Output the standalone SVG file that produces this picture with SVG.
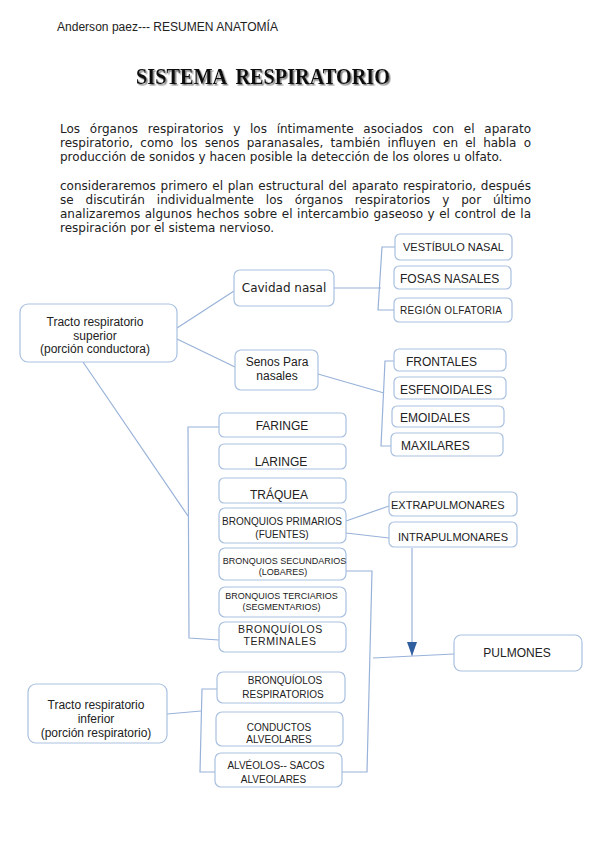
<svg xmlns="http://www.w3.org/2000/svg" width="599" height="848" viewBox="0 0 599 848">
<style>
.box{fill:#fff;stroke:#a9c0e0;stroke-width:1.2}
.ln{fill:none;stroke:#98b2d9;stroke-width:1.2}
.t{font-family:"Liberation Sans",Arial,sans-serif;fill:#222}
.d{font-family:"DejaVu Sans",sans-serif;fill:#222;font-size:12px}
.m{text-anchor:middle}
</style>
<defs>
<filter id="sh" x="-5%" y="-20%" width="110%" height="150%">
<feDropShadow dx="1.5" dy="1.5" stdDeviation="0.7" flood-color="#666" flood-opacity="0.8"/>
</filter>
<marker id="ah" viewBox="0 0 14 10" refX="14" refY="5" markerWidth="14" markerHeight="10" markerUnits="userSpaceOnUse" orient="auto">
<path d="M0,0 L14,5 L0,10 Z" fill="#2f5f9f"/>
</marker>
</defs>
<rect width="599" height="848" fill="#fff"/>
<text class="t" x="57" y="31" font-size="12" textLength="221" lengthAdjust="spacingAndGlyphs">Anderson paez--- RESUMEN ANATOMÍA</text>
<text x="136" y="84" font-family="'Liberation Serif','Times New Roman',serif" font-weight="bold" font-size="23" fill="#111" filter="url(#sh)" word-spacing="5" textLength="254" lengthAdjust="spacingAndGlyphs">SISTEMA RESPIRATORIO</text>
<g id="intro">
<text class="d" x="60" y="133" word-spacing="5.9" textLength="471" lengthAdjust="spacing">Los órganos respiratorios y los íntimamente asociados con el aparato</text>
<text class="d" x="60" y="147" word-spacing="3.4" textLength="471" lengthAdjust="spacing">respiratorio, como los senos paranasales, también influyen en el habla o</text>
<text class="d" x="60" y="161">producción de sonidos y hacen posible la detección de los olores u olfato.</text>
<text class="d" x="60" y="190" word-spacing="0.9" textLength="471" lengthAdjust="spacing">consideraremos primero el plan estructural del aparato respiratorio, después</text>
<text class="d" x="60" y="204" word-spacing="8" textLength="471" lengthAdjust="spacing">se discutirán individualmente los órganos respiratorios y por último</text>
<text class="d" x="60" y="218" word-spacing="0.7" textLength="471" lengthAdjust="spacing">analizaremos algunos hechos sobre el intercambio gaseoso y el control de la</text>
<text class="d" x="60" y="232">respiración por el sistema nervioso.</text>
</g>
<g id="connectors">
<path class="ln" d="M177,328 L234,291"/>
<path class="ln" d="M177,339 L235,367"/>
<path class="ln" d="M83,362 L188,516"/>
<path class="ln" d="M334,288 L381,288"/>
<path class="ln" d="M395,247 L382,247 L378,310 L394,310"/>
<path class="ln" d="M318,374 L384,393"/>
<path class="ln" d="M394,361 L385,361 L381,446 L391,446"/>
<path class="ln" d="M219,427 L188,427 L189,638 L219,640"/>
<path class="ln" d="M346,521 L389,506"/>
<path class="ln" d="M346,533 L389,538"/>
<path class="ln" d="M412,548 L412,656" marker-end="url(#ah)"/>
<path class="ln" d="M454,654 L373,658"/>
<path class="ln" d="M346,571 L372,571 L367,772 L342,772"/>
<path class="ln" d="M167,714 L201,711"/>
<path class="ln" d="M217,689 L202,689 L200,772 L215,772"/>
</g>
<g id="tracto-superior">
<rect class="box" x="20" y="304" width="157" height="58" rx="8"/>
<text class="t m" x="95" y="326" font-size="12">Tracto respiratorio</text>
<text class="t m" x="95" y="340" font-size="12">superior</text>
<text class="t m" x="95" y="353" font-size="12">(porción conductora)</text>
</g>
<g id="cavidad-nasal">
<rect class="box" x="234" y="270" width="100" height="36" rx="6"/>
<text class="d m" x="284" y="292">Cavidad nasal</text>
</g>
<g id="senos-paranasales">
<rect class="box" x="235" y="350" width="83" height="40" rx="6"/>
<text class="t m" x="277" y="366" font-size="12">Senos Para</text>
<text class="t m" x="277" y="380" font-size="12">nasales</text>
</g>
<g id="vestibulo-nasal">
<rect class="box" x="395" y="234" width="117" height="26" rx="5"/>
<text class="t" x="403" y="251" font-size="11" fill="#333">VESTÍBULO NASAL</text>
</g>
<g id="fosas-nasales">
<rect class="box" x="394" y="266" width="117" height="23" rx="5"/>
<text class="t" x="400" y="283" font-size="12">FOSAS NASALES</text>
</g>
<g id="region-olfatoria">
<rect class="box" x="394" y="298" width="118" height="24" rx="5"/>
<text class="t" x="400" y="314" font-size="10" fill="#333" textLength="102" lengthAdjust="spacing">REGIÓN OLFATORIA</text>
</g>
<g id="frontales">
<rect class="box" x="394" y="349" width="112" height="22" rx="5"/>
<text class="t" x="406" y="366" font-size="12">FRONTALES</text>
</g>
<g id="esfenoidales">
<rect class="box" x="394" y="377" width="112" height="22" rx="5"/>
<text class="t" x="400" y="394" font-size="12">ESFENOIDALES</text>
</g>
<g id="emoidales">
<rect class="box" x="392" y="406" width="112" height="21" rx="5"/>
<text class="t" x="400" y="422" font-size="12">EMOIDALES</text>
</g>
<g id="maxilares">
<rect class="box" x="391" y="433" width="112" height="23" rx="5"/>
<text class="t" x="401" y="450" font-size="12">MAXILARES</text>
</g>
<g id="faringe">
<rect class="box" x="219" y="413" width="127" height="24" rx="5"/>
<text class="t m" x="282" y="430" font-size="12">FARINGE</text>
</g>
<g id="laringe">
<rect class="box" x="219" y="444" width="127" height="25" rx="5"/>
<text class="t m" x="281" y="466" font-size="12">LARINGE</text>
</g>
<g id="traquea">
<rect class="box" x="219" y="478" width="127" height="25" rx="5"/>
<text class="t m" x="279" y="499" font-size="12">TRÁQUEA</text>
</g>
<g id="bronquios-primarios">
<rect class="box" x="219" y="508" width="127" height="35" rx="6"/>
<text class="t m" x="282" y="525" font-size="10">BRONQUIOS PRIMARIOS</text>
<text class="t m" x="282" y="538" font-size="10">(FUENTES)</text>
</g>
<g id="bronquios-secundarios">
<rect class="box" x="219" y="548" width="127" height="32" rx="6"/>
<text class="t m" x="284.5" y="564" font-size="9">BRONQUIOS SECUNDARIOS</text>
<text class="t m" x="283" y="575" font-size="9">(LOBARES)</text>
</g>
<g id="bronquios-terciarios">
<rect class="box" x="219" y="587" width="127" height="30" rx="6"/>
<text class="t m" x="281.5" y="599" font-size="9">BRONQUIOS TERCIARIOS</text>
<text class="t m" x="281.5" y="610" font-size="9">(SEGMENTARIOS)</text>
</g>
<g id="bronquiolos-terminales">
<rect class="box" x="219" y="622" width="127" height="30" rx="6"/>
<text class="t m" x="280.5" y="633" font-size="10.5" letter-spacing="0.6">BRONQUÍOLOS</text>
<text class="t m" x="280" y="645" font-size="10.5" letter-spacing="0.6">TERMINALES</text>
</g>
<g id="extrapulmonares">
<rect class="box" x="389" y="492" width="128" height="24" rx="5"/>
<text class="t" x="391" y="509" font-size="11">EXTRAPULMONARES</text>
</g>
<g id="intrapulmonares">
<rect class="box" x="389" y="522" width="128" height="25" rx="5"/>
<text class="t" x="398" y="541" font-size="11">INTRAPULMONARES</text>
</g>
<g id="pulmones">
<rect class="box" x="454" y="635" width="128" height="36" rx="7"/>
<text class="t m" x="517" y="657" font-size="12">PULMONES</text>
</g>
<g id="tracto-inferior">
<rect class="box" x="28" y="684" width="139" height="59" rx="8"/>
<text class="t m" x="96" y="709" font-size="12">Tracto respiratorio</text>
<text class="t m" x="96" y="723" font-size="12">inferior</text>
<text class="t m" x="96" y="737" font-size="12">(porción respiratorio)</text>
</g>
<g id="bronquiolos-respiratorios">
<rect class="box" x="217" y="672" width="128" height="31" rx="6"/>
<text class="t m" x="285" y="684" font-size="10">BRONQUÍOLOS</text>
<text class="t m" x="283" y="698" font-size="10">RESPIRATORIOS</text>
</g>
<g id="conductos-alveolares">
<rect class="box" x="216" y="712" width="127" height="34" rx="6"/>
<text class="t m" x="279" y="731" font-size="10">CONDUCTOS</text>
<text class="t m" x="279" y="742.5" font-size="10">ALVEOLARES</text>
</g>
<g id="alveolos-sacos">
<rect class="box" x="215" y="753" width="127" height="34" rx="6"/>
<text class="t m" x="276" y="769" font-size="10">ALVÉOLOS-- SACOS</text>
<text class="t m" x="273.5" y="783" font-size="10">ALVEOLARES</text>
</g>
</svg>
